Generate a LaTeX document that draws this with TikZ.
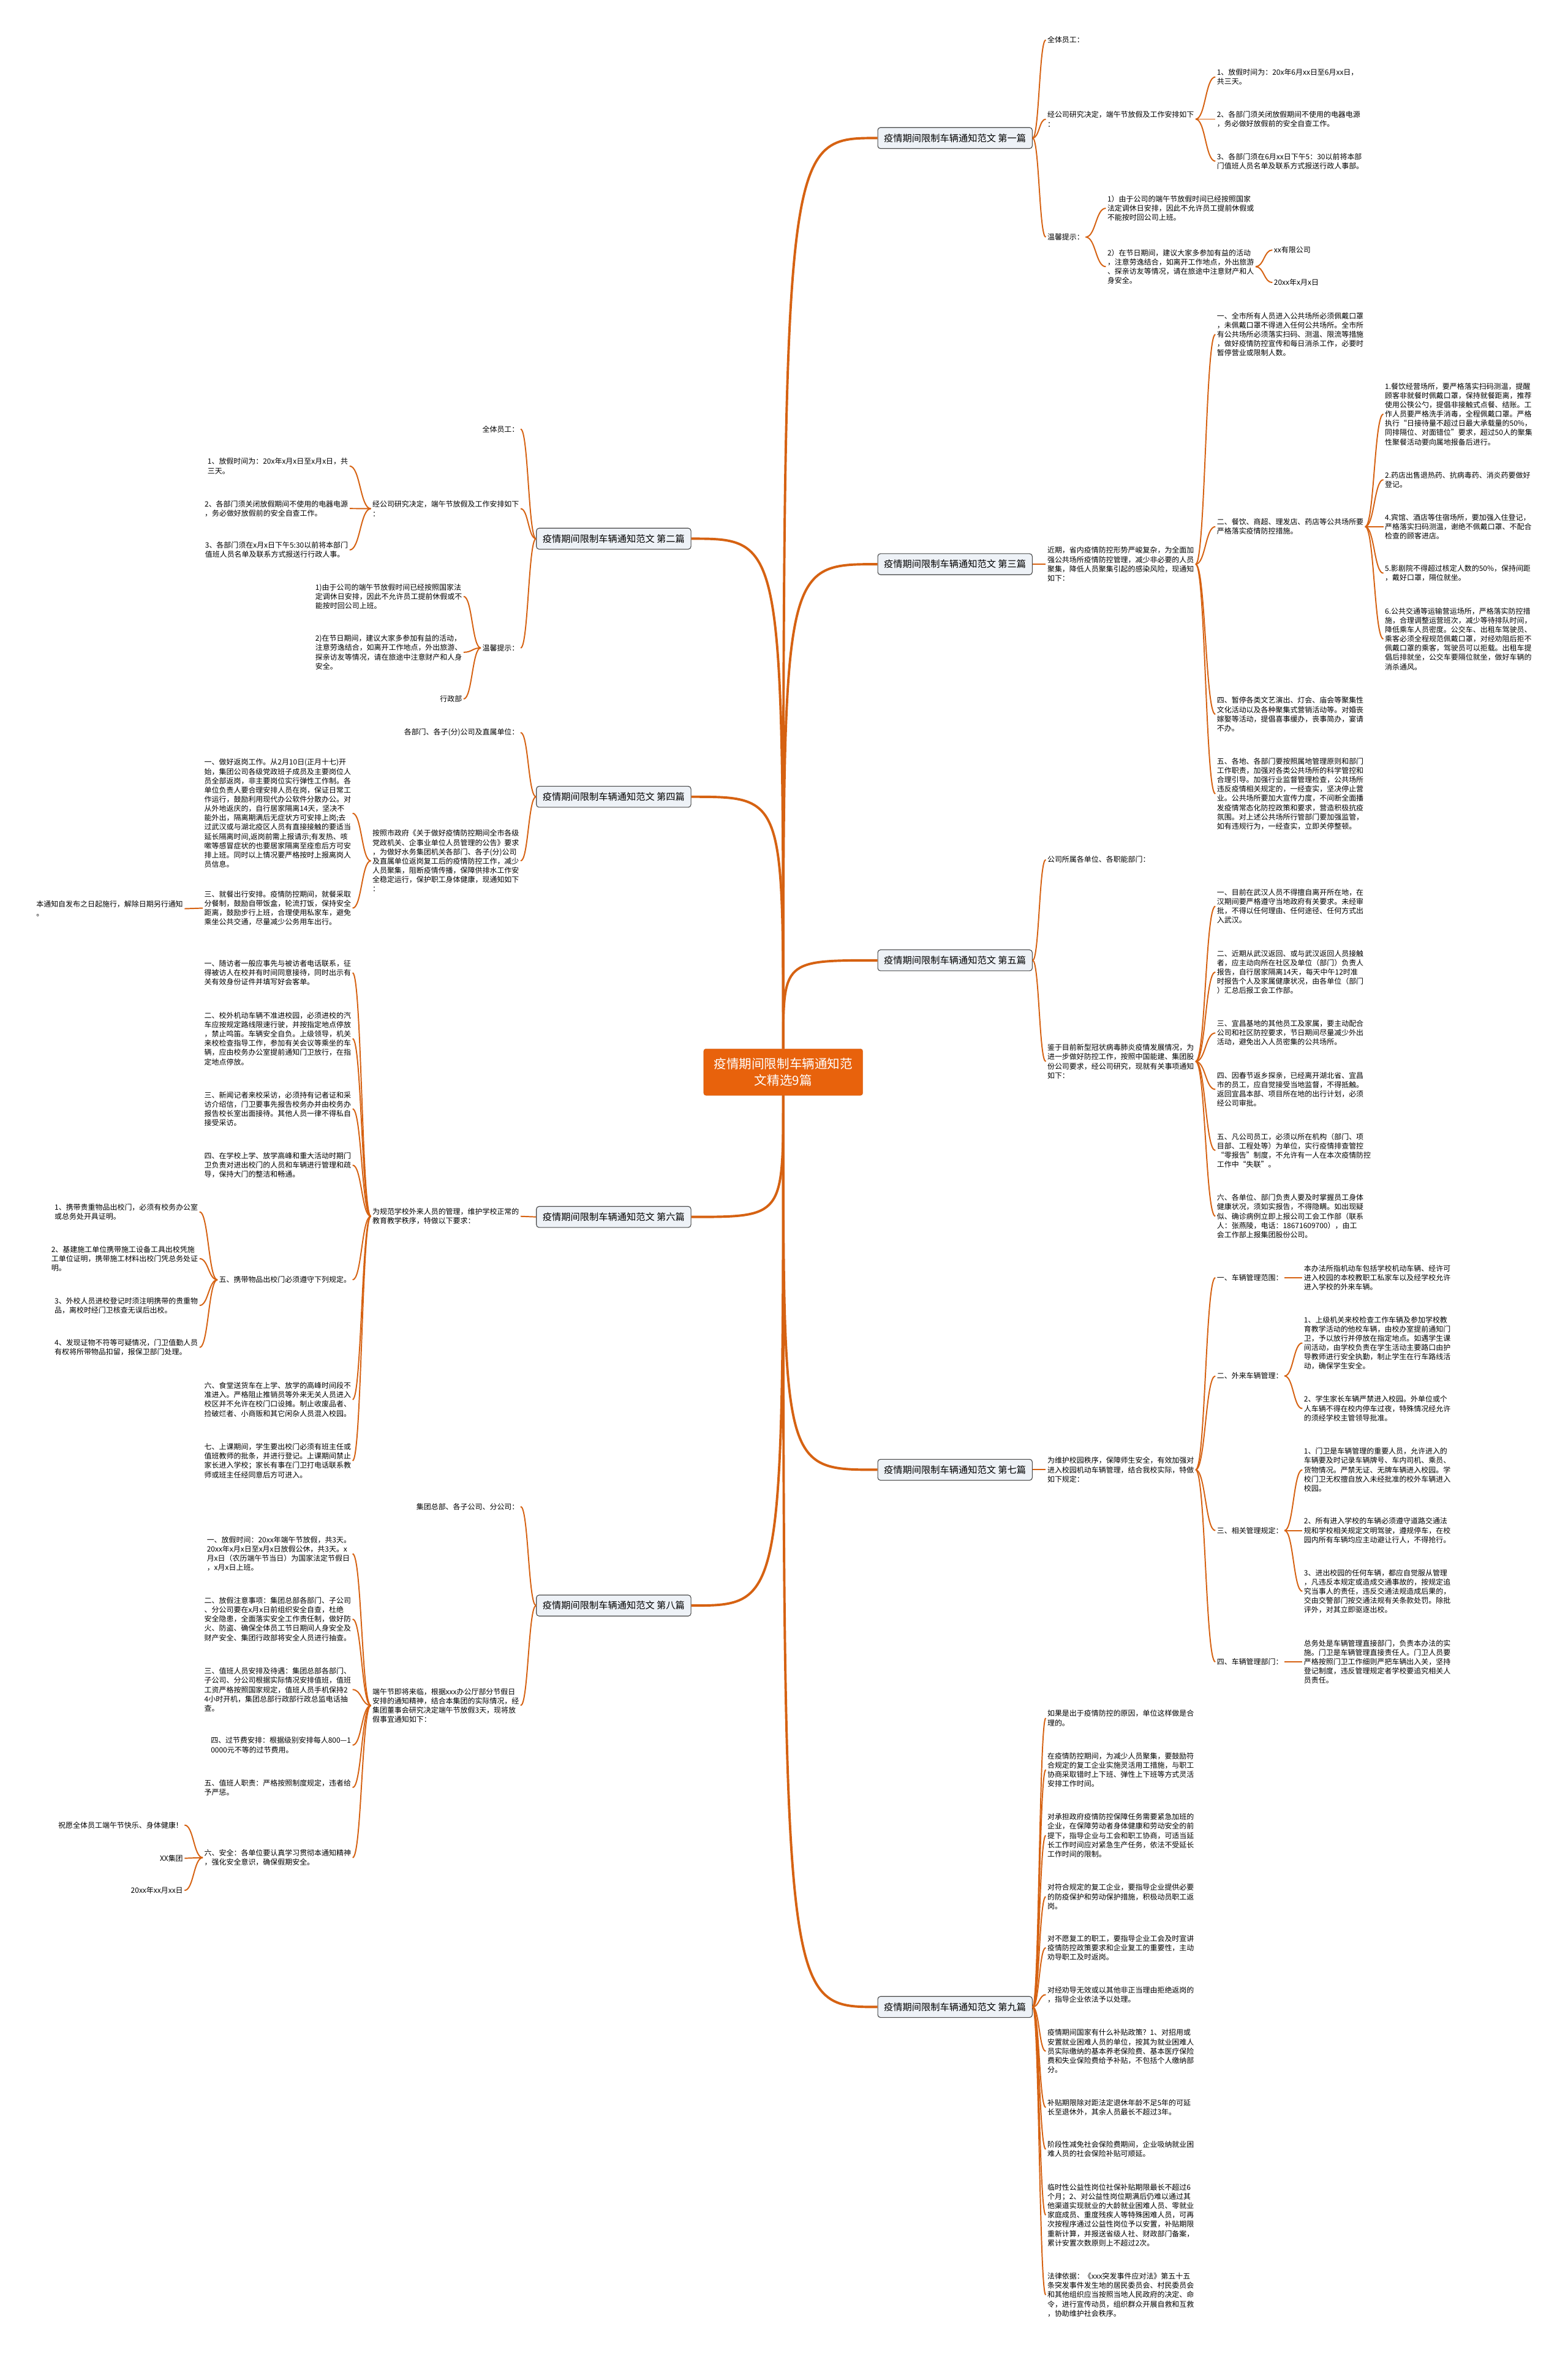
\documentclass[tikz,border=0pt]{standalone}
\usepackage{fontspec}
\setmainfont{Noto Sans CJK SC}
\usetikzlibrary{calc}
\definecolor{linkc}{RGB}{214,98,18}
\definecolor{rootc}{RGB}{232,98,12}
\definecolor{boxc}{RGB}{238,242,247}
\definecolor{boxline}{RGB}{72,72,72}

\begin{document}
\begin{tikzpicture}[x=1mm, y=-1mm,
  root/.style={fill=rootc, draw=rootc!85!black, rounded corners=1.5mm, text=white, align=center,
    minimum width=106mm, minimum height=31mm, font=\fontsize{23.9}{31}\selectfont},
  sec/.style={fill=boxc, draw=boxline, line width=0.45mm, rounded corners=1.8mm,
    minimum width=103mm, minimum height=14mm, inner xsep=2mm, font=\fontsize{17.7}{21}\selectfont},
  leaf/.style={align=left, inner sep=1mm, font=\fontsize{13.9}{17.6}\selectfont},
  rleaf/.style={leaf, anchor=west},
  lleaf/.style={leaf, anchor=east},
  trunk/.style={draw=linkc, line width=1.6mm,
    to path={.. controls (\tikztostart |- \tikztotarget) .. (\tikztotarget)}},
  link/.style={draw=linkc, line width=0.8mm,
    to path={.. controls ($(\tikztostart)!0.5!(\tikztostart -| \tikztotarget)$)
      and ($(\tikztotarget)!0.5!(\tikztotarget -| \tikztostart)$) .. (\tikztotarget)}}]

  \useasboundingbox (0,0) rectangle (1045,1568.8);
  \fill[white] (0,0) rectangle (1045,1568.8);

  \node[root] (root) at (522,714.5) {疫情期间限制车辆通知范\\文精选9篇};

  \node[sec] (s1) at (636.5,92) {疫情期间限制车辆通知范文 第一篇};
  \node[sec] (s3) at (636.5,376) {疫情期间限制车辆通知范文 第三篇};
  \node[sec] (s5) at (636.5,640) {疫情期间限制车辆通知范文 第五篇};
  \node[sec] (s7) at (636.5,979.5) {疫情期间限制车辆通知范文 第七篇};
  \node[sec] (s9) at (636.5,1337.5) {疫情期间限制车辆通知范文 第九篇};
  \node[sec] (s2) at (409,359) {疫情期间限制车辆通知范文 第二篇};
  \node[sec] (s4) at (409,531) {疫情期间限制车辆通知范文 第四篇};
  \node[sec] (s6) at (409,811) {疫情期间限制车辆通知范文 第六篇};
  \node[sec] (s8) at (409,1070) {疫情期间限制车辆通知范文 第八篇};

  \node[rleaf] (s1a) at (697,26.6) {全体员工：};
  \node[rleaf] (s1b) at (697,79.4) {经公司研究决定，端午节放假及工作安排如下\\：};
  \node[rleaf] (s1c) at (697,158) {温馨提示：};
  \node[rleaf] (s1b1) at (810,51.3) {1、放假时间为：20x年6月xx日至6月xx日，\\共三天。};
  \node[rleaf] (s1b2) at (810,79.4) {2、各部门须关闭放假期间不使用的电器电源\\，务必做好放假前的安全自查工作。};
  \node[rleaf] (s1b3) at (810,107.4) {3、各部门须在6月xx日下午5：30以前将本部\\门值班人员名单及联系方式报送行政人事部。};
  \node[rleaf] (s1c1) at (737,138.8) {1）由于公司的端午节放假时间已经按照国家\\法定调休日安排，因此不允许员工提前休假或\\不能按时回公司上班。};
  \node[rleaf] (s1c2) at (737,177.7) {2）在节日期间，建议大家多参加有益的活动\\，注意劳逸结合，如离开工作地点，外出旅游\\、探亲访友等情况，请在旅途中注意财产和人\\身安全。};
  \node[rleaf] (s1c2a) at (848,166.6) {xx有限公司};
  \node[rleaf] (s1c2b) at (848,188.3) {20xx年x月x日};

  \node[rleaf] (s3a) at (697,376) {近期，省内疫情防控形势严峻复杂，为全面加\\强公共场所疫情防控管理，减少非必要的人员\\聚集，降低人员聚集引起的感染风险，现通知\\如下：};
  \node[rleaf] (s3a1) at (810,222.9) {一、全市所有人员进入公共场所必须佩戴口罩\\，未佩戴口罩不得进入任何公共场所。全市所\\有公共场所必须落实扫码、测温、限流等措施\\，做好疫情防控宣传和每日消杀工作，必要时\\暂停营业或限制人数。};
  \node[rleaf] (s3a2) at (810,351) {二、餐饮、商超、理发店、药店等公共场所要\\严格落实疫情防控措施。};
  \node[rleaf] (s3a3) at (810,476) {四、暂停各类文艺演出、灯会、庙会等聚集性\\文化活动以及各种聚集式营销活动等。对婚丧\\嫁娶等活动，提倡喜事缓办，丧事简办，宴请\\不办。};
  \node[rleaf] (s3a4) at (810,529) {五、各地、各部门要按照属地管理原则和部门\\工作职责，加强对各类公共场所的科学管控和\\合理引导。加强行业监督管理检查，公共场所\\违反疫情相关规定的，一经查实，坚决停止营\\业。公共场所要加大宣传力度，不间断全面播\\发疫情常态化防控政策和要求，营造积极抗疫\\氛围。对上述公共场所行管部门要加强监管，\\如有违规行为，一经查实，立即关停整顿。};
  \node[rleaf] (s3b1) at (922,276) {1.餐饮经营场所，要严格落实扫码测温，提醒\\顾客非就餐时佩戴口罩，保持就餐距离，推荐\\使用公筷公勺，提倡非接触式点餐、结账。工\\作人员要严格洗手消毒，全程佩戴口罩。严格\\执行“日接待量不超过日最大承载量的50\%，\\同排隔位、对面错位”要求，超过50人的聚集\\性聚餐活动要向属地报备后进行。};
  \node[rleaf] (s3b2) at (922,319.7) {2.药店出售退热药、抗病毒药、消炎药要做好\\登记。};
  \node[rleaf] (s3b3) at (922,351) {4.宾馆、酒店等住宿场所，要加强入住登记，\\严格落实扫码测温，谢绝不佩戴口罩、不配合\\检查的顾客进店。};
  \node[rleaf] (s3b4) at (922,382) {5.影剧院不得超过核定人数的50\%，保持间距\\，戴好口罩，隔位就坐。};
  \node[rleaf] (s3b5) at (922,425.8) {6.公共交通等运输营运场所，严格落实防控措\\施，合理调整运营班次，减少等待排队时间，\\降低乘车人员密度。公交车、出租车驾驶员、\\乘客必须全程规范佩戴口罩，对经劝阻后拒不\\佩戴口罩的乘客，驾驶员可以拒载。出租车提\\倡后排就坐，公交车要隔位就坐，做好车辆的\\消杀通风。};

  \node[rleaf] (s5a) at (697,572.9) {公司所属各单位、各职能部门：};
  \node[rleaf] (s5b) at (697,707.4) {鉴于目前新型冠状病毒肺炎疫情发展情况，为\\进一步做好防控工作，按照中国能建、集团股\\份公司要求，经公司研究，现就有关事项通知\\如下：};
  \node[rleaf] (s5b1) at (810,604) {一、目前在武汉人员不得擅自离开所在地，在\\汉期间要严格遵守当地政府有关要求。未经审\\批，不得以任何理由、任何途径、任何方式出\\入武汉。};
  \node[rleaf] (s5b2) at (810,647.8) {二、近期从武汉返回、或与武汉返回人员接触\\者，应主动向所在社区及单位（部门）负责人\\报告，自行居家隔离14天，每天中午12时准\\时报告个人及家属健康状况，由各单位（部门\\）汇总后报工会工作部。};
  \node[rleaf] (s5b3) at (810,688.4) {三、宜昌基地的其他员工及家属，要主动配合\\公司和社区防控要求，节日期间尽量减少外出\\活动，避免出入人员密集的公共场所。};
  \node[rleaf] (s5b4) at (810,726) {四、因春节返乡探亲，已经离开湖北省、宜昌\\市的员工，应自觉接受当地监督，不得抵触。\\返回宜昌本部、项目所在地的出行计划，必须\\经公司审批。};
  \node[rleaf] (s5b5) at (810,766.7) {五、凡公司员工，必须以所在机构（部门、项\\目部、工程处等）为单位，实行疫情排查管控\\“零报告”制度，不允许有一人在本次疫情防控\\工作中“失联”。};
  \node[rleaf] (s5b6) at (810,810.5) {六、各单位、部门负责人要及时掌握员工身体\\健康状况，须如实报告，不得隐瞒。如出现疑\\似、确诊病例立即上报公司工会工作部（联系\\人：张燕陵，电话：18671609700），由工\\会工作部上报集团股份公司。};

  \node[rleaf] (s7a) at (697,979.5) {为维护校园秩序，保障师生安全，有效加强对\\进入校园机动车辆管理，结合我校实际，特做\\如下规定：};
  \node[rleaf] (s7a1) at (810,851.5) {一、车辆管理范围：};
  \node[rleaf] (s7a2) at (810,917) {二、外来车辆管理：};
  \node[rleaf] (s7a3) at (810,1020) {三、相关管理规定：};
  \node[rleaf] (s7a4) at (810,1107.5) {四、车辆管理部门：};
  \node[rleaf] (s7b1) at (868,851.5) {本办法所指机动车包括学校机动车辆、经许可\\进入校园的本校教职工私家车以及经学校允许\\进入学校的外来车辆。};
  \node[rleaf] (s7c1) at (868,895) {1、上级机关来校检查工作车辆及参加学校教\\育教学活动的他校车辆，由校办室提前通知门\\卫，予以放行并停放在指定地点。如遇学生课\\间活动，由学校负责在学生活动主要路口由护\\导教师进行安全执勤，制止学生在行车路线活\\动，确保学生安全。};
  \node[rleaf] (s7c2) at (868,938.7) {2、学生家长车辆严禁进入校园。外单位或个\\人车辆不得在校内停车过夜，特殊情况经允许\\的须经学校主管领导批准。};
  \node[rleaf] (s7d1) at (868,979.5) {1、门卫是车辆管理的重要人员，允许进入的\\车辆要及时记录车辆牌号、车内司机、乘员、\\货物情况。严禁无证、无牌车辆进入校园。学\\校门卫无权擅自放入未经批准的校外车辆进入\\校园。};
  \node[rleaf] (s7d2) at (868,1020) {2、所有进入学校的车辆必须遵守道路交通法\\规和学校相关规定文明驾驶，遵规停车，在校\\园内所有车辆均应主动避让行人，不得抢行。};
  \node[rleaf] (s7d3) at (868,1060.5) {3、进出校园的任何车辆，都应自觉服从管理\\，凡违反本规定或造成交通事故的，按规定追\\究当事人的责任，违反交通法规造成后果的，\\交由交警部门按交通法规有关条款处罚。除批\\评外，对其立即驱逐出校。};
  \node[rleaf] (s7e1) at (868,1107.5) {总务处是车辆管理直接部门，负责本办法的实\\施。门卫是车辆管理直接责任人。门卫人员要\\严格按照门卫工作细则严把车辆出入关，坚持\\登记制度，违反管理规定者学校要追究相关人\\员责任。};

  \node[rleaf] (s9a) at (697,1145) {如果是出于疫情防控的原因，单位这样做是合\\理的。};
  \node[rleaf] (s9b) at (697,1179.4) {在疫情防控期间，为减少人员聚集，要鼓励符\\合规定的复工企业实施灵活用工措施，与职工\\协商采取错时上下班、弹性上下班等方式灵活\\安排工作时间。};
  \node[rleaf] (s9c) at (697,1223.2) {对承担政府疫情防控保障任务需要紧急加班的\\企业，在保障劳动者身体健康和劳动安全的前\\提下，指导企业与工会和职工协商，可适当延\\长工作时间应对紧急生产任务，依法不受延长\\工作时间的限制。};
  \node[rleaf] (s9d) at (697,1264) {对符合规定的复工企业，要指导企业提供必要\\的防疫保护和劳动保护措施，积极动员职工返\\岗。};
  \node[rleaf] (s9e) at (697,1298) {对不愿复工的职工，要指导企业工会及时宣讲\\疫情防控政策要求和企业复工的重要性，主动\\劝导职工及时返岗。};
  \node[rleaf] (s9f) at (697,1329.3) {对经劝导无效或以其他非正当理由拒绝返岗的\\，指导企业依法予以处理。};
  \node[rleaf] (s9g) at (697,1367) {疫情期间国家有什么补贴政策？1、对招用或\\安置就业困难人员的单位，按其为就业困难人\\员实际缴纳的基本养老保险费、基本医疗保险\\费和失业保险费给予补贴，不包括个人缴纳部\\分。};
  \node[rleaf] (s9h) at (697,1404.5) {补贴期限除对距法定退休年龄不足5年的可延\\长至退休外，其余人员最长不超过3年。};
  \node[rleaf] (s9i) at (697,1432.3) {阶段性减免社会保险费期间，企业吸纳就业困\\难人员的社会保险补贴可顺延。};
  \node[rleaf] (s9j) at (697,1476.2) {临时性公益性岗位社保补贴期限最长不超过6\\个月；2、对公益性岗位期满后仍难以通过其\\他渠道实现就业的大龄就业困难人员、零就业\\家庭成员、重度残疾人等特殊困难人员，可再\\次按程序通过公益性岗位予以安置，补贴期限\\重新计算，并报送省级人社、财政部门备案，\\累计安置次数原则上不超过2次。};
  \node[rleaf] (s9k) at (697,1529.4) {法律依据：《xxx突发事件应对法》第五十五\\条突发事件发生地的居民委员会、村民委员会\\和其他组织应当按照当地人民政府的决定、命\\令，进行宣传动员，组织群众开展自救和互救\\，协助维护社会秩序。};

  \node[lleaf] (s2a) at (347,286) {全体员工：};
  \node[lleaf] (s2b) at (347,339) {经公司研究决定，端午节放假及工作安排如下\\：};
  \node[lleaf] (s2c) at (347,431.8) {温馨提示：};
  \node[lleaf] (s2b1) at (233,310.6) {1、放假时间为：20x年x月x日至x月x日，共\\三天。};
  \node[lleaf] (s2b2) at (233,338.9) {2、各部门须关闭放假期间不使用的电器电源\\，务必做好放假前的安全自查工作。};
  \node[lleaf] (s2b3) at (233,366.5) {3、各部门须在x月x日下午5:30以前将本部门\\值班人员名单及联系方式报送行行政人事。};
  \node[lleaf] (s2c1) at (309,397.5) {1)由于公司的端午节放假时间已经按照国家法\\定调休日安排，因此不允许员工提前休假或不\\能按时回公司上班。};
  \node[lleaf] (s2c2) at (309,434.7) {2)在节日期间，建议大家多参加有益的活动，\\注意劳逸结合，如离开工作地点，外出旅游、\\探亲访友等情况，请在旅途中注意财产和人身\\安全。};
  \node[lleaf] (s2c3) at (309,465.8) {行政部};

  \node[lleaf] (s4a) at (347,488.2) {各部门、各子(分)公司及直属单位：};
  \node[lleaf] (s4b) at (347,573.7) {按照市政府《关于做好疫情防控期间全市各级\\党政机关、企事业单位人员管理的公告》要求\\，为做好水务集团机关各部门、各子(分)公司\\及直属单位返岗复工后的疫情防控工作，减少\\人员聚集，阻断疫情传播，保障供排水工作安\\全稳定运行，保护职工身体健康，现通知如下\\：};
  \node[lleaf] (s4b1) at (235,542) {一、做好返岗工作。从2月10日(正月十七)开\\始，集团公司各级党政班子成员及主要岗位人\\员全部返岗，非主要岗位实行弹性工作制。各\\单位负责人要合理安排人员在岗，保证日常工\\作运行，鼓励利用现代办公软件分散办公。对\\从外地返庆的，自行居家隔离14天，坚决不\\能外出，隔离期满后无症状方可安排上岗;去\\过武汉或与湖北疫区人员有直接接触的要适当\\延长隔离时间,返岗前需上报请示;有发热、咳\\嗽等感冒症状的也要居家隔离至痊愈后方可安\\排上班。同时以上情况要严格按时上报离岗人\\员信息。};
  \node[lleaf] (s4b2) at (235,605.2) {三、就餐出行安排。疫情防控期间，就餐采取\\分餐制，鼓励自带饭盒，轮流打饭，保持安全\\距离，鼓励步行上班，合理使用私家车，避免\\乘坐公共交通，尽量减少公务用车出行。};
  \node[lleaf] (s4c1) at (123,605.6) {本通知自发布之日起施行，解除日期另行通知\\。};

  \node[lleaf] (s6a) at (347,810.6) {为规范学校外来人员的管理，维护学校正常的\\教育教学秩序，特做以下要求：};
  \node[lleaf] (s6a1) at (235,648.3) {一、随访者一般应事先与被访者电话联系，征\\得被访人在校并有时间同意接待，同时出示有\\关有效身份证件并填写好会客单。};
  \node[lleaf] (s6a2) at (235,692.2) {二、校外机动车辆不准进校园，必须进校的汽\\车应按规定路线限速行驶，并按指定地点停放\\，禁止鸣笛。车辆安全自负。上级领导，机关\\来校检查指导工作，参加有关会议等乘坐的车\\辆，应由校务办公室提前通知门卫放行，在指\\定地点停放。};
  \node[lleaf] (s6a3) at (235,739) {三、新闻记者来校采访，必须持有记者证和采\\访介绍信，门卫要事先报告校务办并由校务办\\报告校长室出面接待。其他人员一律不得私自\\接受采访。};
  \node[lleaf] (s6a4) at (235,776.5) {四、在学校上学、放学高峰和重大活动时期门\\卫负责对进出校门的人员和车辆进行管理和疏\\导，保持大门的整洁和畅通。};
  \node[lleaf] (s6a5) at (235,852.9) {五、携带物品出校门必须遵守下列规定。};
  \node[lleaf] (s6a6) at (235,932.7) {六、食堂送货车在上学、放学的高峰时间段不\\准进入。严格阻止推销员等外来无关人员进入\\校区并不允许在校门口设摊。制止收废品者、\\捡破烂者、小商贩和其它闲杂人员混入校园。};
  \node[lleaf] (s6a7) at (235,973.5) {七、上课期间，学生要出校门必须有班主任或\\值班教师的批条，并进行登记。上课期间禁止\\家长进入学校；家长有事在门卫打电话联系教\\师或班主任经同意后方可进入。};
  \node[lleaf] (s6b1) at (133,807.6) {1、携带贵重物品出校门，必须有校务办公室\\或总务处开具证明。};
  \node[lleaf] (s6b2) at (133,838.8) {2、基建施工单位携带施工设备工具出校凭施\\工单位证明，携带施工材料出校门凭总务处证\\明。};
  \node[lleaf] (s6b3) at (133,870) {3、外校人员进校登记时须注明携带的贵重物\\品，离校时经门卫核查无误后出校。};
  \node[lleaf] (s6b4) at (133,898) {4、发现证物不符等可疑情况，门卫值勤人员\\有权将所带物品扣留，报保卫部门处理。};

  \node[lleaf] (s8a) at (347,1004) {集团总部、各子公司、分公司：};
  \node[lleaf] (s8b) at (347,1136.6) {端午节即将来临，根据xxx办公厅部分节假日\\安排的通知精神，结合本集团的实际情况，经\\集团董事会研究决定端午节放假3天，现将放\\假事宜通知如下：};
  \node[lleaf] (s8b1) at (235,1035.5) {一、放假时间：20xx年端午节放假，共3天。\\20xx年x月x日至x月x日放假公休，共3天。x\\月x日（农历端午节当日）为国家法定节假日\\，x月x日上班。};
  \node[lleaf] (s8b2) at (235,1079) {二、放假注意事项：集团总部各部门、子公司\\、分公司要在x月x日前组织安全自查，杜绝\\安全隐患，全面落实安全工作责任制，做好防\\火、防盗、确保全体员工节日期间人身安全及\\财产安全、集团行政部将安全人员进行抽查。};
  \node[lleaf] (s8b3) at (235,1126) {三、值班人员安排及待遇：集团总部各部门、\\子公司、分公司根据实际情况安排值班，值班\\工资严格按照国家规定，值班人员手机保持2\\4小时开机，集团总部行政部行政总监电话抽\\查。};
  \node[lleaf] (s8b4) at (235,1163) {四、过节费安排：根据级别安排每人800—1\\0000元不等的过节费用。};
  \node[lleaf] (s8b5) at (235,1191.3) {五、值班人职责：严格按照制度规定，违者给\\予严惩。};
  \node[lleaf] (s8b6) at (235,1238) {六、安全：各单位要认真学习贯彻本通知精神\\，强化安全意识，确保假期安全。};
  \node[lleaf] (s8c1) at (123,1216.3) {祝愿全体员工端午节快乐、身体健康！};
  \node[lleaf] (s8c2) at (123,1238.4) {XX集团};
  \node[lleaf] (s8c3) at (123,1259.8) {20xx年xx月xx日};

  \draw[trunk] (root.north) to (s1.west);
  \draw[trunk] (root.north) to (s3.west);
  \draw[trunk] (root.north) to (s5.west);
  \draw[trunk] (root.south) to (s7.west);
  \draw[trunk] (root.south) to (s9.west);
  \draw[trunk] (root.north) to (s2.east);
  \draw[trunk] (root.north) to (s4.east);
  \draw[trunk] (root.south) to (s6.east);
  \draw[trunk] (root.south) to (s8.east);

  \foreach \c in {s1a,s1b,s1c} \draw[link] (s1.east) to (\c.west);
  \foreach \c in {s1b1,s1b2,s1b3} \draw[link] (s1b.east) to (\c.west);
  \foreach \c in {s1c1,s1c2} \draw[link] (s1c.east) to (\c.west);
  \foreach \c in {s1c2a,s1c2b} \draw[link] (s1c2.east) to (\c.west);

  \draw[link] (s3.east) to (s3a.west);
  \foreach \c in {s3a1,s3a2,s3a3,s3a4} \draw[link] (s3a.east) to (\c.west);
  \foreach \c in {s3b1,s3b2,s3b3,s3b4,s3b5} \draw[link] (s3a2.east) to (\c.west);

  \foreach \c in {s5a,s5b} \draw[link] (s5.east) to (\c.west);
  \foreach \c in {s5b1,s5b2,s5b3,s5b4,s5b5,s5b6} \draw[link] (s5b.east) to (\c.west);

  \draw[link] (s7.east) to (s7a.west);
  \foreach \c in {s7a1,s7a2,s7a3,s7a4} \draw[link] (s7a.east) to (\c.west);
  \draw[link] (s7a1.east) to (s7b1.west);
  \foreach \c in {s7c1,s7c2} \draw[link] (s7a2.east) to (\c.west);
  \foreach \c in {s7d1,s7d2,s7d3} \draw[link] (s7a3.east) to (\c.west);
  \draw[link] (s7a4.east) to (s7e1.west);

  \foreach \c in {s9a,s9b,s9c,s9d,s9e,s9f,s9g,s9h,s9i,s9j,s9k} \draw[link] (s9.east) to (\c.west);

  \foreach \c in {s2a,s2b,s2c} \draw[link] (s2.west) to (\c.east);
  \foreach \c in {s2b1,s2b2,s2b3} \draw[link] (s2b.west) to (\c.east);
  \foreach \c in {s2c1,s2c2,s2c3} \draw[link] (s2c.west) to (\c.east);

  \foreach \c in {s4a,s4b} \draw[link] (s4.west) to (\c.east);
  \foreach \c in {s4b1,s4b2} \draw[link] (s4b.west) to (\c.east);
  \draw[link] (s4b2.west) to (s4c1.east);

  \draw[link] (s6.west) to (s6a.east);
  \foreach \c in {s6a1,s6a2,s6a3,s6a4,s6a5,s6a6,s6a7} \draw[link] (s6a.west) to (\c.east);
  \foreach \c in {s6b1,s6b2,s6b3,s6b4} \draw[link] (s6a5.west) to (\c.east);

  \foreach \c in {s8a,s8b} \draw[link] (s8.west) to (\c.east);
  \foreach \c in {s8b1,s8b2,s8b3,s8b4,s8b5,s8b6} \draw[link] (s8b.west) to (\c.east);
  \foreach \c in {s8c1,s8c2,s8c3} \draw[link] (s8b6.west) to (\c.east);
\end{tikzpicture}
\end{document}
